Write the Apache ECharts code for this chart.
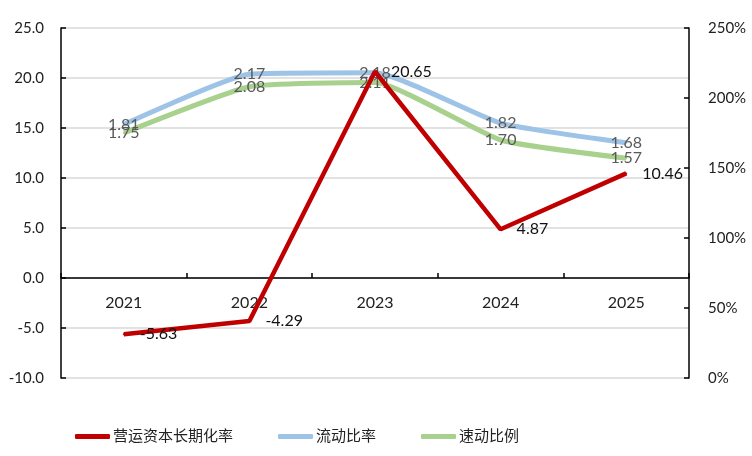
<!DOCTYPE html>
<html><head><meta charset="utf-8">
<script src="https://cdn.jsdelivr.net/npm/echarts@6/dist/echarts.min.js"></script>
<style>html,body{margin:0;padding:0;background:#fff}#c{width:752px;height:456px}</style>
</head><body><div id="c"></div>
<script>
var categories = ['2021', '2022', '2023', '2024', '2025'];
var workingCapital = [-5.63, -4.29, 20.65, 4.87, 10.46];
var currentRatio = [1.81, 2.17, 2.18, 1.82, 1.68];
var quickRatio = [1.75, 2.08, 2.11, 1.70, 1.57];
var seriesNames = ['营运资本长期化率', '流动比率', '速动比例'];

var FONT = 'Lato, "Noto Sans CJK SC", sans-serif';
var chart = echarts.init(document.getElementById('c'));
chart.setOption({
  animation: false,
  textStyle: { fontFamily: FONT },
  grid: { left: 61, right: 63, top: 28, bottom: 78 },
  legend: {
    left: 70, bottom: 7,
    itemWidth: 35, itemHeight: 5, itemGap: 45,
    icon: 'roundRect',
    textStyle: { fontSize: 15, color: '#222', fontFamily: FONT, padding: [0, 0, 0, -2] },
    data: seriesNames
  },
  xAxis: {
    type: 'category', data: categories, boundaryGap: true,
    offset: -100,
    axisLine: { onZero: false, lineStyle: { color: '#000', width: 1.5 } },
    axisTick: { show: true, inside: true, length: 5, lineStyle: { color: '#000', width: 1.5 } },
    axisLabel: { margin: 17, fontSize: 16, color: '#222' },
    splitLine: { show: false }
  },
  yAxis: [{
    type: 'value', min: -10, max: 25, interval: 5,
    axisLine: { show: true, onZero: false, lineStyle: { color: '#000', width: 1.5 } },
    axisTick: { show: true, inside: true, length: 5, lineStyle: { color: '#000', width: 1.5 } },
    axisLabel: { margin: 17, fontSize: 15, color: '#222', formatter: function (v) { return v.toFixed(1); } },
    splitLine: { show: true, lineStyle: { color: '#D9D9D9', width: 1.5 } }
  }, {
    type: 'value', min: 0, max: 2.5, interval: 0.5, position: 'right',
    axisLine: { show: true, onZero: false, lineStyle: { color: '#000', width: 1.5 } },
    axisTick: { show: true, inside: true, length: 5, lineStyle: { color: '#000', width: 1.5 } },
    axisLabel: { margin: 19, fontSize: 15, color: '#222', formatter: function (v) { return Math.round(v * 100) + '%'; } },
    splitLine: { show: false }
  }],
  series: [{
    name: seriesNames[0], type: 'line', yAxisIndex: 0, data: workingCapital,
    z: 5, symbol: 'circle', symbolSize: 2, showSymbol: true,
    lineStyle: { color: '#C00000', width: 4.5 }, itemStyle: { color: '#C00000' },
    label: { show: true, position: 'right', distance: 15, fontSize: 16, color: '#111',
      formatter: function (p) { return p.value.toFixed(2); } }
  }, {
    name: seriesNames[1], type: 'line', yAxisIndex: 1, data: currentRatio,
    z: 3, symbol: 'circle', symbolSize: 2, showSymbol: true, smooth: 0.15,
    lineStyle: { color: '#9DC3E6', width: 5 }, itemStyle: { color: '#9DC3E6' },
    label: { show: true, position: 'inside', fontSize: 16, color: '#595959',
      formatter: function (p) { return p.value.toFixed(2); } }
  }, {
    name: seriesNames[2], type: 'line', yAxisIndex: 1, data: quickRatio,
    z: 3, symbol: 'circle', symbolSize: 2, showSymbol: true, smooth: 0.15,
    lineStyle: { color: '#A9D18E', width: 5 }, itemStyle: { color: '#A9D18E' },
    label: { show: true, position: 'inside', fontSize: 16, color: '#595959',
      formatter: function (p) { return p.value.toFixed(2); } }
  }]
});
</script></body></html>
